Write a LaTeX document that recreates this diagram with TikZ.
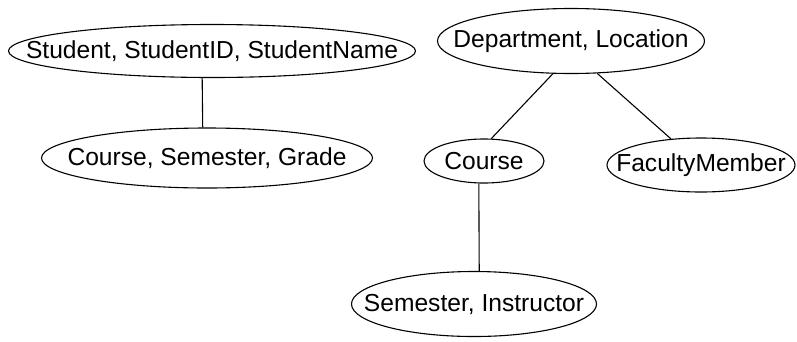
\documentclass[tikz,border=0pt]{standalone}
\usepackage{fontspec}
\setmainfont{Liberation Sans}
\usetikzlibrary{shapes.geometric}

\begin{document}
\begin{tikzpicture}[x=1pt,y=-1pt,
			ent/.style={ellipse,draw,line width=1.1pt,inner xsep=-100pt,inner ysep=-20pt,
				font=\fontsize{24.6}{28}\selectfont},
			link/.style={line width=1.1pt}]
			
			\useasboundingbox (0,0) rectangle (797,341);
			
			% Left tree
			\node[ent,minimum width=407pt,minimum height=53pt] (stu) at (212,51)
			{Student, StudentID, StudentName};
			\node[ent,minimum width=331pt,minimum height=60pt] (csg) at (207,158)
			{Course, Semester, Grade};
			\draw[link] (stu.250) -- (csg.98);
			
			% Right tree
			\node[ent,minimum width=267pt,minimum height=65pt] (dept) at (571,41)
			{Department, Location};
			\node[ent,minimum width=120pt,minimum height=44pt] (course) at (484,161)
			{Course};
			\node[ent,minimum width=188pt,minimum height=54pt] (fac) at (701,165)
			{FacultyMember};
			\node[ent,minimum width=245pt,minimum height=65pt] (semins) at (474,304)
			{Semester, Instructor};
			\draw[link] (dept.241) -- (course.72);
			\draw[link] (dept.309) -- (fac.139);
			\draw[link] (course.257) -- (semins.81);
			
		\end{tikzpicture}
\end{document}
